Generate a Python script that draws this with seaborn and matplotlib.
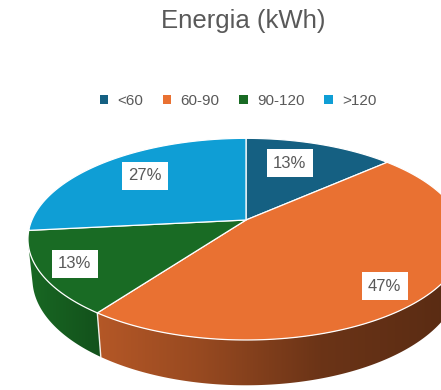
import numpy as np
import matplotlib
matplotlib.use("Agg")
import matplotlib.pyplot as plt
from matplotlib.patches import Polygon, Patch
import seaborn as sns

# ---- data ----
categories = ["<60", "60-90", "90-120", ">120"]
counts = [2, 7, 2, 4]
chart_title = "Energia (kWh)"

# ---- style ----
sns.set_theme(style="white")
plt.rcParams["font.family"] = ["Liberation Sans", "DejaVu Sans"]
palette = sns.color_palette(["#156082", "#E97132", "#196B24", "#0F9ED5"])
text_grey = "#595959"

W, H = 441, 390
fig = plt.figure(figsize=(W / 100, H / 100), dpi=100)
ax = fig.add_axes([0, 0, 1, 1])
ax.set_xlim(0, W)
ax.set_ylim(H, 0)
ax.axis("off")

# ---- perspective camera for the 3-D pie ----
elev = np.radians(27)
dist = 4.69
focal = 1004
cx, cy = 246, 220
thick = 0.21


def project(x, y, z):
    d = y * np.cos(elev) - z * np.sin(elev) + dist
    return cx + focal * x / d, cy - focal * (y * np.sin(elev) + z * np.cos(elev)) / d


def rim(t, z):
    return project(np.cos(t), np.sin(t), z)


fractions = np.asarray(counts, float) / sum(counts)
starts = 90 - 360 * np.concatenate([[0], np.cumsum(fractions)[:-1]])
ends = starts - 360 * fractions  # clockwise from 12 o'clock

# visible part of the outer wall (front), silhouette from the camera
ts = np.degrees(np.arcsin(1 / (dist * np.cos(elev))))
vis_lo, vis_hi = -180 + ts, -ts

# wall shading as a function of horizontal screen position
shade_x = [28, 93, 200, 320, 440]
shade_f = [0.97, 0.78, 0.65, 0.46, 0.39]
gx = np.linspace(0, W, W + 1)
gf = np.interp(gx, shade_x, shade_f)

seams = []
for s, e, col in zip(starts, ends, palette):
    for shift in (-360, 0, 360):
        lo, hi = max(e + shift, vis_lo), min(s + shift, vis_hi)
        if hi <= lo:
            continue
        tt = np.radians(np.linspace(lo, hi, 200))
        pts = [rim(t, 0) for t in tt] + [rim(t, -thick) for t in tt[::-1]]
        wall = Polygon(pts, closed=True, facecolor="none", edgecolor="none")
        ax.add_patch(wall)
        grad = np.clip(np.array(col)[None, None, :] * gf[None, :, None], 0, 1)
        im = ax.imshow(grad, extent=(0, W, H, 0), aspect="auto",
                       interpolation="bilinear", zorder=1)
        im.set_clip_path(wall)
        for b in (lo, hi):
            if vis_lo < b < vis_hi:
                seams.append(round(b, 6))

for b in set(seams):
    b = np.radians(b)
    p0, p1 = rim(b, 0), rim(b, -thick)
    ax.plot([p0[0], p1[0]], [p0[1], p1[1]], color="white", lw=1.0, alpha=0.9, zorder=2)

# top faces
for s, e, col in zip(starts, ends, palette):
    tt = np.radians(np.linspace(s, e, 200))
    pts = [project(0, 0, 0)] + [rim(t, 0) for t in tt]
    ax.add_patch(Polygon(pts, closed=True, facecolor=col, edgecolor="white",
                         linewidth=0.9, joinstyle="round", zorder=3))

# data labels
label_r = 0.78
label_nudge = [(-16, 4), (1, 10), (-15, 3), (12, 2)]
for s, e, frac, (nx, ny) in zip(starts, ends, fractions, label_nudge):
    m = np.radians((s + e) / 2)
    lx, ly = project(label_r * np.cos(m), label_r * np.sin(m), 0)
    ax.text(lx + nx, ly + ny, f"{frac * 100:.0f}%", ha="center", va="center",
            fontsize=12, color=text_grey, zorder=5,
            bbox=dict(boxstyle="square,pad=0.38", facecolor="white", edgecolor="none"))

# title and legend
fig.text(243 / W, 1 - 21 / H, chart_title, ha="center", va="center",
         fontsize=18.5, color=text_grey)
handles = [Patch(facecolor=c, edgecolor="none", label=l) for c, l in zip(palette, categories)]
ax.legend(handles=handles, loc="center", bbox_to_anchor=(238 / W, 1 - 101 / H),
          bbox_transform=fig.transFigure, ncol=4, frameon=False, fontsize=11,
          handlelength=0.55, handleheight=0.55, handletextpad=0.6, columnspacing=1.3,
          labelcolor=text_grey, borderpad=0)

fig.savefig("out.png", dpi=100)
